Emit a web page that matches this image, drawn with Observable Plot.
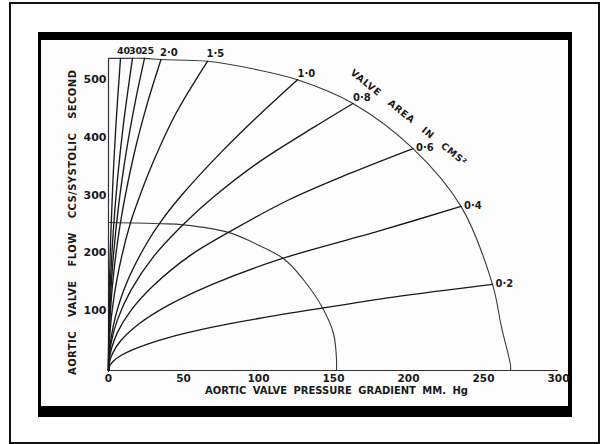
<!DOCTYPE html>
<html>
<head>
<meta charset="utf-8">
<script src="https://cdn.jsdelivr.net/npm/d3@7"></script>
<script src="https://cdn.jsdelivr.net/npm/@observablehq/plot@0.6"></script>
<style>
  html, body { margin: 0; padding: 0; background: #fff; }
  #page { position: relative; width: 603px; height: 444px; overflow: hidden; }
  #outer { position: absolute; left: 9px; top: 2px; width: 591px; height: 442px; border: 2px solid #111; box-sizing: border-box; }
  #inner { position: absolute; left: 38px; top: 32px; width: 534px; height: 385px; background: #fdfdfd;
           border-style: solid; border-color: #000; border-width: 8px 4px 11px 3px; box-sizing: border-box; }
  #chart { position: absolute; left: 0; top: 0; }
</style>
</head>
<body>
<div id="page">
  <div id="outer"></div>
  <div id="inner"></div>
  <div id="chart"></div>
</div>
<script>
// ---- data: [pressure gradient mm Hg, flow cc/systolic second]
const areaLabels = ["0·2", "0·4", "0·6", "0·8", "1·0", "1·5", "2·0", "25", "30", "40"];
const curve02 = [[0,0],[1,9],[3,15.6],[8,25.5],[20,40],[40,57],[70,75.5],[100,90],[140,107],[190,127],[256,149]];
const curve04 = [[0,0],[1,18],[3,31],[8,51],[20,80],[40,113],[70,150],[115,193],[180,241],[235,284]];
const curve06 = [[0,0],[0.5,19],[2,38],[6,66],[15,104],[30,147],[55,200],[80,239],[120,295],[160,340],[203,384]];
const curve08 = [[0,0],[0.5,25],[2,51],[6,88],[15,139],[30,197],[50,253],[70,300],[100,360],[137,421],[163,462]];
const curve10 = [[0,0],[0.3,24],[1.5,53],[5,97],[12,151],[25,218],[35,258],[49,304],[76,380],[98,436],[126,503]];
const curve15 = [[0,0],[0.2,30],[1,66],[3,115],[7,176],[14.7,256],[20,296],[30,362],[45,445],[66,535]];
const curve20 = [[0,0],[0.2,40],[1,90],[3,157],[7,240],[11.3,304],[18,385],[26,463],[35,538]];
const curve25 = [[0,0],[0.2,49],[1,110],[3,190],[7,291],[12,381],[18,467],[24,540]];
const curve30 = [[0,0],[0.2,60],[1,135],[3,234],[6,331],[10,427],[16,540]];
const curve40 = [[0,0],[0.1,60],[0.5,135],[1.5,234],[3,331],[5,427],[8,540]];
const outerArc = [[0,540],[8,540],[24,540],[35,538],[66,535],[96,522],[126,503],[163,462],[203,384],[235,284],[256,149],[262,75],[268,9],[268,0]];
const innerArc = [[0,256],[35,254],[50,252],[80,239],[95,223],[117,193],[130,157],[143,107],[150,64],[152,20],[152,0]];
const gradientTicks = [0, 50, 100, 150, 200, 250, 300];
const flowTicks = [100, 200, 300, 400, 500];
const gradientAxisEnd = 300;
const flowAxisEnd = 540;
const xTitle = "AORTIC VALVE PRESSURE GRADIENT MM. Hg";
const yTitle = "AORTIC VALVE FLOW CCS/SYSTOLIC SECOND";
const arcTitle = "VALVE AREA IN CMS²";

// ---- build tables
const curves = [curve02, curve04, curve06, curve08, curve10, curve15, curve20, curve25, curve30, curve40];
const curveRows = curves.flatMap((pts, i) => pts.map(([g, f]) => ({area: areaLabels[i], g, f})));
const ends = curves.map((pts, i) => ({label: areaLabels[i], i, g: pts[pts.length - 1][0], f: pts[pts.length - 1][1]}));
const arcRows = [
  ...outerArc.map(([g, f]) => ({arc: "outer", g, f})),
  ...innerArc.map(([g, f]) => ({arc: "inner", g, f}))
];
const font = "DejaVu Sans";
const ink = "#1a1a1a";

const chart = Plot.plot({
  width: 603,
  height: 444,
  marginLeft: 108,
  marginRight: 45,
  marginTop: 81,
  marginBottom: 74,
  x: {domain: [0, 300], axis: null},
  y: {domain: [0, 500], axis: null},
  style: {background: "transparent", fontFamily: font},
  marks: [
    Plot.ruleY([{y: 0, x1: 0, x2: gradientAxisEnd}], {y: "y", x1: "x1", x2: "x2", stroke: "#333", strokeWidth: 1.2}),
    Plot.ruleX([{x: 0, y1: 0, y2: flowAxisEnd}], {x: "x", y1: "y1", y2: "y2", stroke: "#333", strokeWidth: 1.2}),
    Plot.line(arcRows, {x: "g", y: "f", z: "arc", curve: "catmull-rom", stroke: "#3a3a3a", strokeWidth: 1.1}),
    Plot.line(curveRows, {x: "g", y: "f", z: "area", curve: "catmull-rom", stroke: ink, strokeWidth: 1.35}),
    // tick labels
    Plot.text(gradientTicks, {x: d => d, y: 0, dy: 8, text: d => String(d), fontSize: 10.5, fontWeight: "bold", fill: ink}),
    Plot.text(flowTicks, {x: 0, y: d => d, dx: -2, dy: -2, textAnchor: "end", text: d => String(d), fontSize: 11, fontWeight: "bold", fill: ink}),
    // curve labels
    Plot.text(ends.filter(d => d.i <= 2), {x: "g", y: "f", text: "label", textAnchor: "start", dx: 3, dy: -1, fontSize: 10, fontWeight: "bold", fill: ink}),
    Plot.text(ends.filter(d => d.i === 3 || d.i === 4), {x: "g", y: "f", text: "label", textAnchor: "start", dx: 0, dy: -6, fontSize: 10, fontWeight: "bold", fill: ink}),
    Plot.text(ends.filter(d => d.i === 5 || d.i === 6), {x: "g", y: "f", text: "label", textAnchor: "start", dx: -1, dy: -7, fontSize: 10, fontWeight: "bold", fill: ink}),
    Plot.text(ends.filter(d => d.i >= 7), {x: "g", y: "f", text: "label", textAnchor: "middle", dx: 3, dy: -7, fontSize: 9.5, fontWeight: "bold", fill: ink, letterSpacing: -0.5}),
    // titles
    Plot.text([xTitle], {x: 152, y: -35, text: d => d, fontSize: 10, fontWeight: "bold", fill: ink}),
    Plot.text([yTitle], {x: -24, y: 256, text: d => d, rotate: -90, fontSize: 10, fontWeight: "bold", fill: ink}),
    Plot.text([arcTitle], {x: 200, y: 438, text: d => d, rotate: 39, fontSize: 9.5, fontWeight: "bold", fill: ink})
  ]
});

const svg = d3.select(chart);
const fit = (txt, len, ws) => svg.selectAll("text").filter(function() { return this.textContent === txt; })
  .attr("textLength", len).attr("lengthAdjust", "spacing").style("word-spacing", ws);
fit(xTitle, 263, "3px");
fit(yTitle, 305, "10px");
fit(arcTitle, 146, "8px");
document.getElementById("chart").appendChild(chart);
</script>
</body>
</html>
